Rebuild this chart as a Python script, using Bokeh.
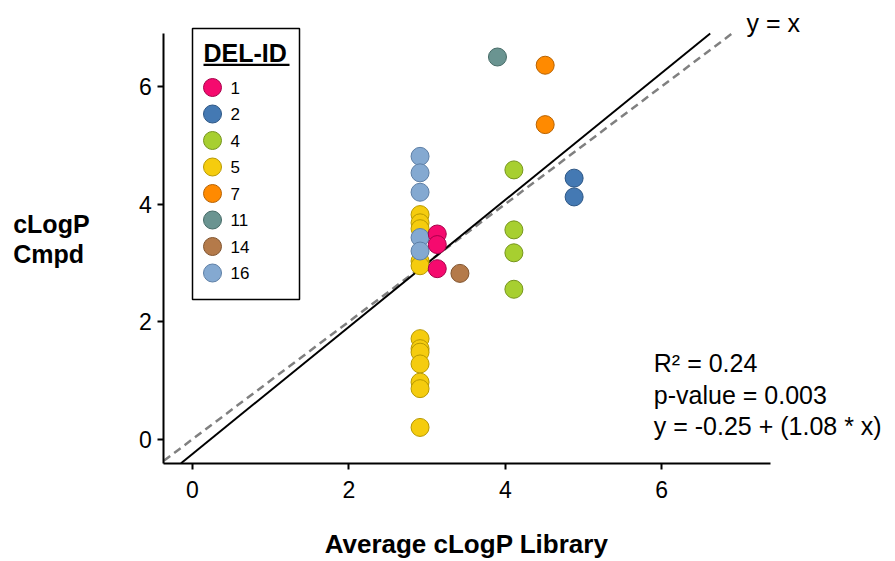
from bokeh.plotting import figure
from bokeh.models import Range1d, Label, BoxAnnotation, ColumnDataSource
from bokeh.core.properties import value
from bokeh.embed import file_html
from bokeh.resources import INLINE

# ---------------- data ----------------
del_ids = ["1", "2", "4", "5", "7", "11", "14", "16"]

lib_1 = [3.13, 3.13, 3.13]
cmpd_1 = [3.49, 3.31, 2.90]
lib_2 = [4.88, 4.88]
cmpd_2 = [4.44, 4.12]
lib_4 = [4.11, 4.11, 4.11, 4.11]
cmpd_4 = [4.58, 3.56, 3.17, 2.55]
lib_5 = [2.91, 2.91, 2.91, 2.91, 2.91, 2.91, 2.91, 2.91, 2.91, 2.91, 2.91, 2.91]
cmpd_5 = [3.82, 3.68, 3.58, 3.03, 2.95, 1.71, 1.54, 1.48, 1.28, 0.97, 0.86, 0.20]
lib_7 = [4.51, 4.51]
cmpd_7 = [6.36, 5.35]
lib_11 = [3.90]
cmpd_11 = [6.50]
lib_14 = [3.42]
cmpd_14 = [2.82]
lib_16 = [2.91, 2.91, 2.91, 2.91, 2.91]
cmpd_16 = [4.81, 4.53, 4.20, 3.43, 3.20]

fit_intercept = -0.25
fit_slope = 1.08
identity_intercept = 0.0
identity_slope = 1.0

stats_lines = ["R\u00b2 = 0.24", "p-value = 0.003", "y = -0.25 + (1.08 * x)"]
x_ticks = [0, 2, 4, 6]
y_ticks = [0, 2, 4, 6]
x_limits = (-0.367, 7.39)
y_limits = (-0.408, 6.90)

# ---------------- styles / layout ----------------
fill_colors = ["#F50A6E", "#4479B3", "#A7CF30", "#F5CC0E", "#FF8A00", "#6A9491", "#B47A4A", "#84A9D1"]
line_colors = ["#A8004A", "#2C5685", "#76951C", "#B89900", "#B86200", "#456A66", "#82552F", "#5D7FA6"]
FONT = "Liberation Sans"

W, H = 893, 560
X0PX, XPX = 192.0, 78.2     # pixel of x = 0, pixels per unit
Y0PX, YPX = 438.7, 58.8     # pixel of y = 0, pixels per unit


def dx(px):
    return (px - X0PX) / XPX


def dy(py):
    return (Y0PX - py) / YPX


p = figure(width=W, height=H, min_border=0,
           x_range=Range1d(dx(0), dx(W)), y_range=Range1d(dy(H), dy(0)),
           output_backend="svg", toolbar_location=None)
p.outline_line_color = None
p.background_fill_color = "white"
p.border_fill_color = "white"
p.xgrid.visible = False
p.ygrid.visible = False

p.xaxis.fixed_location = y_limits[0]
p.xaxis.bounds = x_limits
p.yaxis.fixed_location = x_limits[0]
p.yaxis.bounds = y_limits
for ax, ticks in ((p.xaxis, x_ticks), (p.yaxis, y_ticks)):
    ax.ticker = ticks
    ax.axis_line_width = 2
    ax.axis_line_color = "black"
    ax.major_tick_line_width = 2
    ax.major_tick_line_color = "black"
    ax.major_tick_out = 6
    ax.major_tick_in = 0
    ax.minor_tick_line_color = None
    ax.major_label_text_font = FONT
    ax.major_label_text_font_size = "23px"
    ax.major_label_text_color = "black"
p.xaxis.major_label_standoff = 12
p.yaxis.major_label_standoff = 6


def clipped_line(m, b):
    x0, x1 = x_limits
    y0, y1 = m * x0 + b, m * x1 + b
    if y0 < y_limits[0]:
        x0, y0 = (y_limits[0] - b) / m, y_limits[0]
    if y1 > y_limits[1]:
        x1, y1 = (y_limits[1] - b) / m, y_limits[1]
    return [x0, x1], [y0, y1]


# reference lines
ix, iy = clipped_line(identity_slope, identity_intercept)
p.line(ix, iy, line_color="#808080", line_width=2.5, line_dash="8 5")
fx, fy = clipped_line(fit_slope, fit_intercept)
p.line(fx, fy, line_color="black", line_width=2)

# scatter points
series = {
    "1": (lib_1, cmpd_1), "2": (lib_2, cmpd_2), "4": (lib_4, cmpd_4),
    "5": (lib_5, cmpd_5), "7": (lib_7, cmpd_7), "11": (lib_11, cmpd_11),
    "14": (lib_14, cmpd_14), "16": (lib_16, cmpd_16),
}
draw_order = ["5", "16", "1", "14", "4", "2", "7", "11"]
for key in draw_order:
    i = del_ids.index(key)
    xs, ys = series[key]
    src = ColumnDataSource(dict(x=xs, y=ys))
    p.scatter("x", "y", source=src, size=18, fill_color=fill_colors[i],
              line_color=line_colors[i], line_width=1)

# legend (drawn by hand so the circles match the data markers)
p.add_layout(BoxAnnotation(left=dx(192), right=dx(299), top=dy(28), bottom=dy(299),
                           fill_color="white", fill_alpha=1, line_color="black",
                           line_alpha=1, line_width=1.5, level="underlay"))
p.add_layout(Label(x=dx(203), y=dy(52.1), text="DEL-ID", text_font=FONT,
                   text_font_size="25px", text_font_style="bold",
                   text_baseline="middle", text_color="black"))
p.add_layout(BoxAnnotation(left=dx(203), right=dx(289), top=dy(63.2), bottom=dy(65.6),
                           fill_color="black", fill_alpha=1, line_color=None))
leg_y = [dy(87 + 26.5 * i) for i in range(len(del_ids))]
leg_src = ColumnDataSource(dict(x=[dx(212)] * len(del_ids), tx=[dx(230)] * len(del_ids),
                                y=leg_y, label=del_ids, fill=fill_colors, line=line_colors))
p.scatter("x", "y", source=leg_src, size=18, fill_color="fill", line_color="line", line_width=1)
p.text("tx", "y", text="label", source=leg_src, text_font=value(FONT),
       text_font_size="17px", text_baseline="middle", text_color="black")

# axis titles
for txt, mid in (("cLogP", 223.4), ("Cmpd", 253.3)):
    p.add_layout(Label(x=dx(12.7), y=dy(mid), text=txt, text_font=FONT,
                       text_font_size="25px", text_font_style="bold",
                       text_baseline="middle", text_color="black"))
p.add_layout(Label(x=dx(466), y=dy(543), text="Average cLogP Library", text_font=FONT,
                   text_font_size="26px", text_font_style="bold", text_align="center",
                   text_baseline="middle", text_color="black"))

# statistics text
for txt, mid in zip(stats_lines, (362.5, 394.0, 425.7)):
    p.add_layout(Label(x=dx(653.3), y=dy(mid), text=txt, text_font=FONT,
                       text_font_size="25px", text_baseline="middle", text_color="black"))

p.add_layout(Label(x=dx(746), y=dy(22.7), text="y = x", text_font=FONT,
                   text_font_size="25px", text_baseline="middle", text_color="black"))

open("out.html", "w").write(file_html(p, INLINE))
